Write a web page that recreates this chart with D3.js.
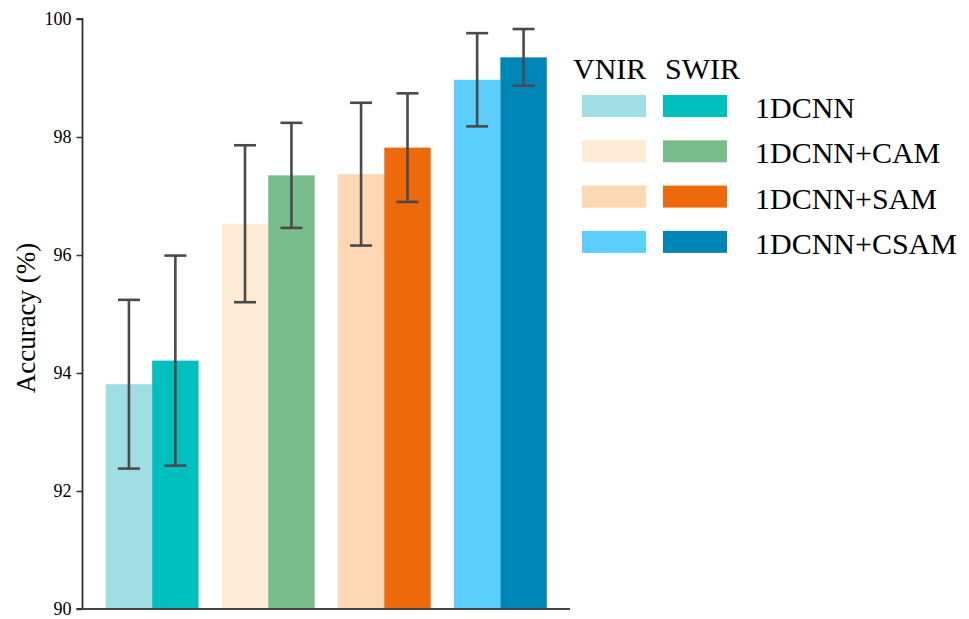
<!DOCTYPE html>
<html>
<head>
<meta charset="utf-8">
<script src="https://cdn.jsdelivr.net/npm/d3@7"></script>
<style>
  html, body { margin: 0; padding: 0; background: #fff; }
  svg { display: block; }
  text { font-family: "Liberation Serif", "Times New Roman", serif; fill: #000; }
</style>
</head>
<body>
<svg id="chart" width="969" height="619"></svg>
<script>
const categories = ["1DCNN", "1DCNN+CAM", "1DCNN+SAM", "1DCNN+CSAM"];
const seriesNames = ["VNIR", "SWIR"];
const vnirMeans = [93.81, 96.53, 97.37, 98.97];
const vnirErrors = [1.43, 1.33, 1.21, 0.79];
const swirMeans = [94.21, 97.35, 97.82, 99.35];
const swirErrors = [1.78, 0.89, 0.92, 0.48];
const vnirColors = ["#9fdee4", "#feebd5", "#fed8b5", "#5bcefc"];
const swirColors = ["#00c0bf", "#78bc8c", "#ed6a0c", "#0085b7"];
const yTicks = [90, 92, 94, 96, 98, 100];

const svg = d3.select("#chart");
const axisX = 82.5, plotRight = 570, plotTop = 19, plotBottom = 609;

const x = d3.scaleBand().domain(categories).range([axisX, plotRight]).padding(0.2);
const xs = d3.scaleBand().domain(seriesNames).range([0, x.bandwidth()]).padding(0);
const y = d3.scaleLinear().domain([90, 100]).range([plotBottom, plotTop]);

const rows = [];
categories.forEach((c, i) => {
  rows.push({cat: c, series: "VNIR", mean: vnirMeans[i], err: vnirErrors[i], color: vnirColors[i]});
  rows.push({cat: c, series: "SWIR", mean: swirMeans[i], err: swirErrors[i], color: swirColors[i]});
});

// bars
svg.append("g").selectAll("rect").data(rows).join("rect")
  .attr("x", d => x(d.cat) + xs(d.series))
  .attr("y", d => y(d.mean))
  .attr("width", xs.bandwidth())
  .attr("height", d => y(90) - y(d.mean))
  .attr("fill", d => d.color);

// error bars
const capW = 22;
const eg = svg.append("g").attr("stroke", "#4a4a4a").attr("stroke-width", 2.6);
rows.forEach(d => {
  const cx = x(d.cat) + xs(d.series) + xs.bandwidth() / 2;
  eg.append("line").attr("x1", cx).attr("x2", cx).attr("y1", y(d.mean + d.err)).attr("y2", y(d.mean - d.err));
  eg.append("line").attr("x1", cx - capW / 2).attr("x2", cx + capW / 2).attr("y1", y(d.mean + d.err)).attr("y2", y(d.mean + d.err));
  eg.append("line").attr("x1", cx - capW / 2).attr("x2", cx + capW / 2).attr("y1", y(d.mean - d.err)).attr("y2", y(d.mean - d.err));
});

// y axis
const yAxis = svg.append("g").attr("transform", `translate(${axisX},0)`)
  .call(d3.axisLeft(y).tickValues(yTicks).tickSize(6).tickPadding(5).tickFormat(d3.format("d")));
yAxis.select(".domain").attr("stroke", "#333").attr("stroke-width", 1.8).attr("d", `M-6,${plotTop}H0V${plotBottom}H-6`);
yAxis.selectAll(".tick line").attr("stroke", "#333").attr("stroke-width", 1.5);
yAxis.selectAll(".tick text").style("font-family", '"Liberation Serif", serif').style("font-size", "18px").attr("fill", "#000");

// x axis line
svg.append("line").attr("x1", axisX - 1).attr("x2", plotRight).attr("y1", plotBottom).attr("y2", plotBottom)
  .attr("stroke", "#444").attr("stroke-width", 2);

// y label
svg.append("text").attr("transform", `translate(35,318) rotate(-90)`).attr("text-anchor", "middle")
  .style("font-size", "27px").text("Accuracy (%)");

// legend
const lg = svg.append("g");
lg.append("text").attr("x", 573).attr("y", 79).style("font-size", "30px").text(seriesNames[0]);
lg.append("text").attr("x", 665).attr("y", 79).style("font-size", "30px").text(seriesNames[1]);
categories.forEach((c, i) => {
  const ry = 95 + i * 45.3;
  lg.append("rect").attr("x", 582).attr("y", ry).attr("width", 64).attr("height", 22).attr("fill", vnirColors[i]);
  lg.append("rect").attr("x", 663).attr("y", ry).attr("width", 64).attr("height", 22).attr("fill", swirColors[i]);
  lg.append("text").attr("x", 755).attr("y", ry + 23).style("font-size", "30px").text(c);
});
</script>
</body>
</html>
